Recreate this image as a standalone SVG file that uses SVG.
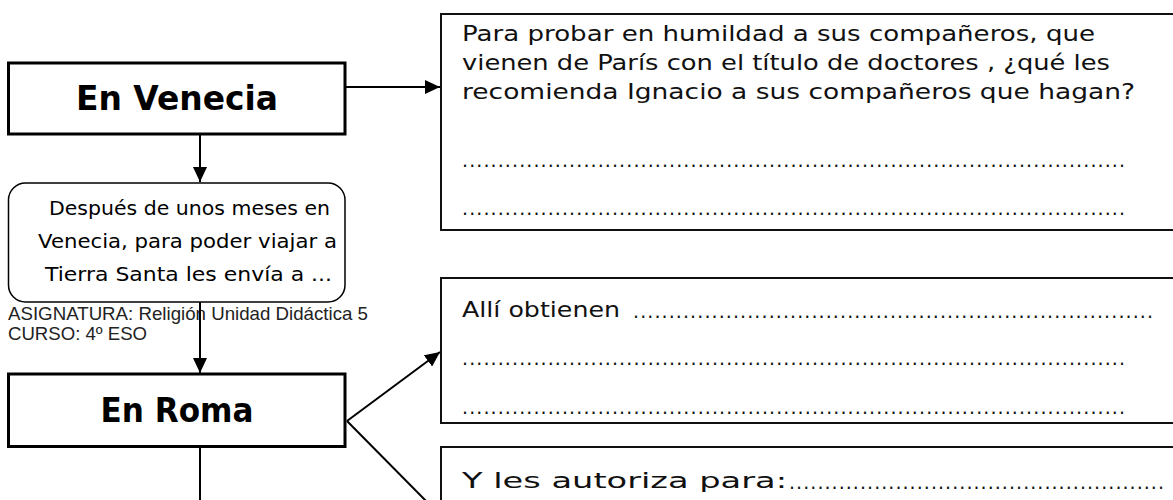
<svg xmlns="http://www.w3.org/2000/svg" width="1173" height="500" viewBox="0 0 1173 500">
  <style>
    .title { font-family: "DejaVu Sans", "Liberation Sans", sans-serif; font-weight: bold; font-size: 34px; fill: #000; text-anchor: middle; }
    .script { font-family: "DejaVu Sans", "Liberation Sans", sans-serif; font-size: 20px; fill: #000; }
    .body { font-family: "DejaVu Sans", "Liberation Sans", sans-serif; font-size: 20.5px; fill: #111; }
    .dots { font-family: "DejaVu Sans", sans-serif; font-size: 19px; fill: #111; }
    .meta { font-family: "Liberation Sans", Arial, sans-serif; font-size: 18.5px; fill: #222; }
    .mainbox { fill: #fff; stroke: #000; stroke-width: 3; }
    .qbox { fill: #fff; stroke: #111; stroke-width: 2; }
    .conn { fill: none; stroke: #000; stroke-width: 2; }
  </style>
  <defs>
    <marker id="arrow" markerUnits="userSpaceOnUse" markerWidth="16" markerHeight="14" refX="15" refY="7" orient="auto">
      <path d="M0,0 L15,7 L0,14 Z" fill="#000"/>
    </marker>
  </defs>

  <rect width="1173" height="500" fill="#fff"/>

  <g id="connectors">
    <line class="conn" x1="345" y1="87" x2="440" y2="87" marker-end="url(#arrow)"/>
    <line class="conn" x1="200" y1="135" x2="200" y2="182" marker-end="url(#arrow)"/>
    <line class="conn" x1="200" y1="302" x2="200" y2="373" marker-end="url(#arrow)"/>
    <line class="conn" x1="347" y1="421" x2="440" y2="352" marker-end="url(#arrow)"/>
    <line class="conn" x1="347" y1="421" x2="430" y2="505"/>
    <line class="conn" x1="200" y1="447" x2="200" y2="502"/>
  </g>

  <g id="venecia">
    <rect class="mainbox" x="8.5" y="63" width="336.5" height="71"/>
    <text class="title" x="177" y="110" textLength="202" lengthAdjust="spacingAndGlyphs">En Venecia</text>
  </g>

  <g id="despues">
    <rect x="8.5" y="183" width="336.5" height="119" rx="17" ry="17" fill="#fff" stroke="#000" stroke-width="1.5"/>
    <text class="script" x="49" y="215" textLength="281" lengthAdjust="spacingAndGlyphs">Después de unos meses en</text>
    <text class="script" x="38" y="248" textLength="299" lengthAdjust="spacingAndGlyphs">Venecia, para poder viajar a</text>
    <text class="script" x="45" y="281" textLength="287" lengthAdjust="spacingAndGlyphs">Tierra Santa les envía a ...</text>
  </g>

  <g id="meta">
    <text class="meta" x="8" y="320" textLength="360" lengthAdjust="spacingAndGlyphs">ASIGNATURA: Religión Unidad Didáctica 5</text>
    <text class="meta" x="8" y="340" textLength="139" lengthAdjust="spacingAndGlyphs">CURSO: 4º ESO</text>
  </g>

  <line class="conn" x1="200" y1="302" x2="200" y2="360"/>

  <g id="roma">
    <rect class="mainbox" x="8.5" y="374" width="336.5" height="72.5"/>
    <text class="title" x="177" y="422" textLength="153" lengthAdjust="spacingAndGlyphs">En Roma</text>
  </g>

  <g id="pregunta-humildad">
    <rect class="qbox" x="441" y="14" width="740" height="216"/>
    <text class="body" x="462" y="41" textLength="633" lengthAdjust="spacingAndGlyphs">Para probar en humildad a sus compañeros, que</text>
    <text class="body" x="462" y="70" textLength="648" lengthAdjust="spacingAndGlyphs">vienen de París con el título de doctores , ¿qué les</text>
    <text class="body" x="462" y="99" textLength="673" lengthAdjust="spacingAndGlyphs">recomienda Ignacio a sus compañeros que hagan?</text>
    <text class="dots" x="462" y="167" textLength="663" lengthAdjust="spacing">.............................................................................................</text>
    <text class="dots" x="462" y="215" textLength="663" lengthAdjust="spacing">.............................................................................................</text>
  </g>

  <g id="pregunta-obtienen">
    <rect class="qbox" x="441" y="278" width="740" height="145"/>
    <text class="body" x="462" y="317" textLength="158" lengthAdjust="spacingAndGlyphs">Allí obtienen</text>
    <text class="dots" x="633" y="318" textLength="520" lengthAdjust="spacing">.........................................................................</text>
    <text class="dots" x="462" y="365" textLength="663" lengthAdjust="spacing">.............................................................................................</text>
    <text class="dots" x="462" y="414" textLength="663" lengthAdjust="spacing">.............................................................................................</text>
  </g>

  <g id="pregunta-autoriza">
    <rect class="qbox" x="441" y="447" width="740" height="80"/>
    <text class="body" x="462" y="488" textLength="325" lengthAdjust="spacingAndGlyphs">Y les autoriza para:</text>
    <text class="dots" x="789" y="489" textLength="375" lengthAdjust="spacing">.....................................................</text>
  </g>
</svg>
